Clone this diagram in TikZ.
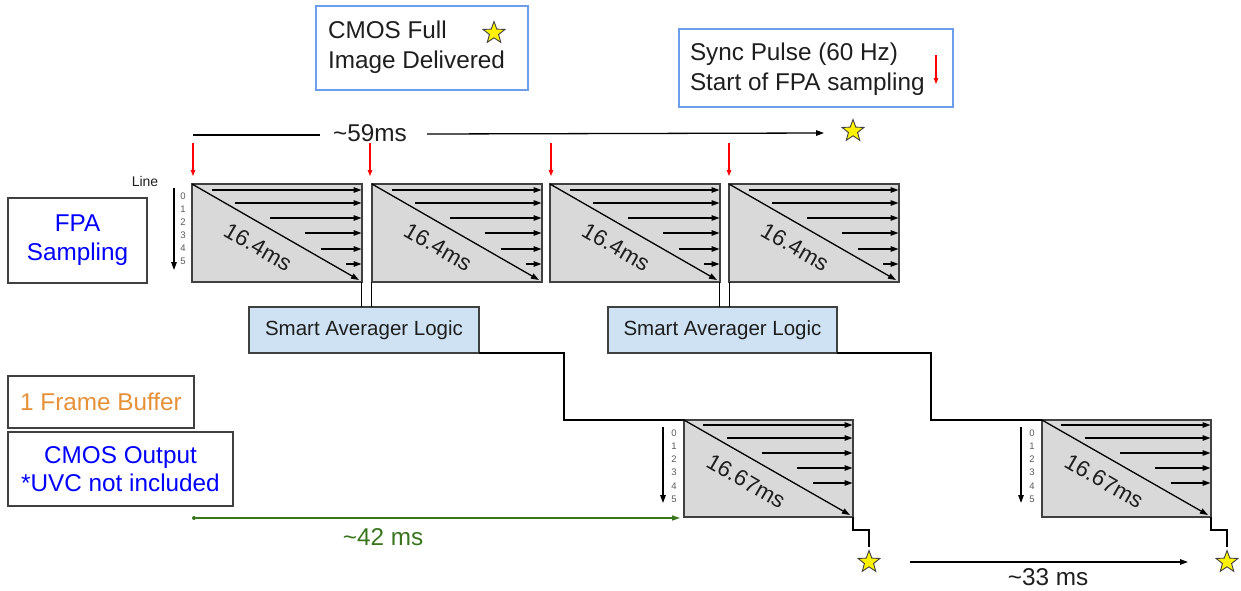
\documentclass[tikz,border=0pt]{standalone}
\usepackage{fontspec}
\setmainfont{Liberation Sans}
\usetikzlibrary{arrows.meta,shapes.geometric,calc}
\definecolor{legblue}{RGB}{109,158,235}
\definecolor{fpafill}{RGB}{217,217,217}
\definecolor{safill}{RGB}{207,226,243}
\definecolor{bufor}{RGB}{230,145,56}
\definecolor{grn}{RGB}{56,118,29}
\definecolor{bord}{RGB}{64,64,64}
\definecolor{numgray}{RGB}{90,90,90}
\definecolor{txtc}{RGB}{30,30,30}

\newcommand\fpaframe[2]{%
  \node[scanbox, minimum width=170pt, minimum height=98pt] (#1) at (#2,184) {};
  \foreach \dx/\dy in {20/6,43/19,78/34,113/49,129/65,154/80}
    \draw[rowarr] ($(#1.north west)+(\dx,\dy)$) -- ($(#1.north east)+(-0.5,\dy)$);
  \draw[rowarr] (#1.north west) -- ($(#1.south east)+(-3,-2)$);
  \node[msfont, rotate=-30] (#1-t) at ($(#1.north west)+(66,63)$) {16.4ms};
}
\newcommand\cmosframe[2]{%
  \node[scanbox, minimum width=169pt, minimum height=97pt] (#1) at (#2,420) {};
  \foreach \dx/\dy in {19/5,43/18,78/33,113/48,129/63}
    \draw[rowarr] ($(#1.north west)+(\dx,\dy)$) -- ($(#1.north east)+(-0.5,\dy)$);
  \draw[rowarr] (#1.north west) -- ($(#1.south east)+(-3,-2)$);
  \node[msfont, rotate=-30] (#1-t) at ($(#1.north west)+(62,61)$) {16.67ms};
  \coordinate (#1-la) at ($(#1.north west)+(-21,7)$);
  \coordinate (#1-lb) at ($(#1.north west)+(-21,83)$);
  \draw[rowarr] (#1-la) -- (#1-lb);
  \foreach \i in {0,...,5}
    \node[numfont] (#1-n\i) at ($(#1.north west)+(-10,{13+13.2*\i})$) {\i};
}

\begin{document}
\begin{tikzpicture}[x=1pt,y=-1pt,
  every node/.style={inner sep=0pt, outer sep=0pt},
  txt/.style={font=\fontsize{24.3}{30}\selectfont, text=txtc},
  satxt/.style={font=\fontsize{20.5}{24}\selectfont, text=txtc},
  msfont/.style={font=\fontsize{22.5}{24}\selectfont, text=txtc},
  numfont/.style={font=\fontsize{9.5}{10}\selectfont, text=numgray},
  legbox/.style={draw=legblue, line width=1.2pt, anchor=north west},
  plainbox/.style={draw=bord, line width=1.3pt, anchor=north west, fill=white},
  scanbox/.style={draw=bord, fill=fpafill, line width=1.5pt, anchor=north west},
  sabox/.style={draw=bord, fill=safill, line width=1.3pt, anchor=north west},
  rowarr/.style={line width=1.3pt, -{Triangle[length=8pt,width=5.5pt]}},
  conn/.style={line width=1.3pt, black},
  redarr/.style={red, line width=1.1pt, -{Triangle[length=6pt,width=4.5pt]}},
  ystar/.style={star, star points=5, star point ratio=2.4, fill=yellow, draw=black!75, line width=0.9pt, minimum size=23pt}
]
\useasboundingbox (0,0) rectangle (1241,590);

% legends
\node[legbox, minimum width=212pt, minimum height=84pt] (legA) at (316,6) {};
\node[txt, anchor=west, align=left] (legAt) at (328,47) {CMOS Full\\Image Delivered};
\node[ystar] (legAs) at (494,33) {};

\node[legbox, minimum width=274pt, minimum height=78pt] (legB) at (679,29) {};
\node[txt, anchor=west, align=left] (legBt) at (690,69.5) {Sync Pulse (60 Hz)\\Start of FPA sampling};
\coordinate (legBa) at (936,55);
\coordinate (legBb) at (936,84);
\draw[redarr] (legBa) -- (legBb);

% left labels
\node[plainbox, minimum width=139pt, minimum height=85pt, align=center,
  font=\fontsize{24.3}{29}\selectfont, text=blue] (fpal) at (8,198) {FPA\\Sampling};
\node[plainbox, minimum width=186pt, minimum height=52pt,
  font=\fontsize{24.3}{29}\selectfont, text=bufor] (bufl) at (8,376) {1 Frame Buffer};
\node[plainbox, minimum width=225pt, minimum height=74pt, align=center,
  font=\fontsize{24.3}{28}\selectfont, text=blue] (cmosl) at (8,432) {CMOS Output\\*UVC not included};

% ~59ms timeline
\coordinate (t59a) at (193,135);
\coordinate (t59b) at (320,135);
\node[txt] (t59) at (370,133) {\textasciitilde 59ms};
\coordinate (t59c) at (427,134);
\coordinate (t59d) at (824,133);
\draw[conn] (t59a) -- (t59b);
\draw[conn, -{Triangle[length=8pt,width=5.5pt]}] (t59c) -- (t59d);
\node[ystar] (s59) at (853,131) {};

% FPA boxes
\fpaframe{f1}{192}
\fpaframe{f2}{372}
\fpaframe{f3}{550}
\fpaframe{f4}{729}

% sync pulses
\foreach \n/\x in {1/193,2/370,3/551,4/729}{
  \coordinate (p\n a) at (\x,143);
  \coordinate (p\n b) at (\x,176);
  \draw[redarr] (p\n a) -- (p\n b);
}

% line legend
\node[font=\fontsize{14}{14}\selectfont, text=txtc] (linelab) at (145,181) {Line};
\coordinate (la0) at (174,188);
\coordinate (la1) at (174,270);
\draw[rowarr] (la0) -- (la1);
\foreach \i in {0,...,5}
  \node[numfont] (ln\i) at (183,{196+13*\i}) {\i};

% smart averagers
\node[sabox, minimum width=230pt, minimum height=46pt, satxt] (sa1) at (249,307) {Smart Averager Logic};
\node[sabox, minimum width=229pt, minimum height=46pt, satxt] (sa2) at (608,307) {Smart Averager Logic};

\coordinate (j1) at ($(f1.south east)+(-1,0)$);
\coordinate (j2) at ($(f2.south west)+(-1,0)$);
\coordinate (j3) at ($(f3.south east)+(-1,0)$);
\coordinate (j4) at (f4.south west);
\draw[conn, line width=1pt] (j1) -- (j1 |- sa1.north);
\draw[conn, line width=1pt] (j2) -- (j2 |- sa1.north);
\draw[conn, line width=1pt] (j3) -- (j3 |- sa2.north);
\draw[conn, line width=1pt] (j4) -- (j4 |- sa2.north);

% CMOS boxes
\cmosframe{c1}{684}
\cmosframe{c2}{1042}

\draw[conn] (sa1.south east) -- ++(85,0) |- (c1.north west);
\draw[conn] (sa2.south east) -- ++(94,0) |- (c2.north west);

% output stars
\node[ystar] (st1) at (869,562) {};
\node[ystar] (st2) at (1227,562) {};
\draw[conn] (c1.south east) -- ++(0,13) -| ($(st1.north)+(0,-4)$);
\draw[conn] (c2.south east) -- ++(0,13) -| ($(st2.north)+(0,-4)$);

% ~42 ms
\node[circle, fill=grn, minimum size=4pt] (g0) at (194,518) {};
\coordinate (g1) at (680,518);
\draw[grn, line width=1.3pt, -{Triangle[length=8pt,width=5pt]}] (g0) -- (g1);
\node[txt, text=grn] (t42) at (383,537) {\textasciitilde 42 ms};

% ~33 ms
\coordinate (h0) at (910,562);
\coordinate (h1) at (1188,562);
\draw[conn, -{Triangle[length=8pt,width=5.5pt]}] (h0) -- (h1);
\node[txt] (t33) at (1048,577) {\textasciitilde 33 ms};
\end{tikzpicture}
\end{document}
